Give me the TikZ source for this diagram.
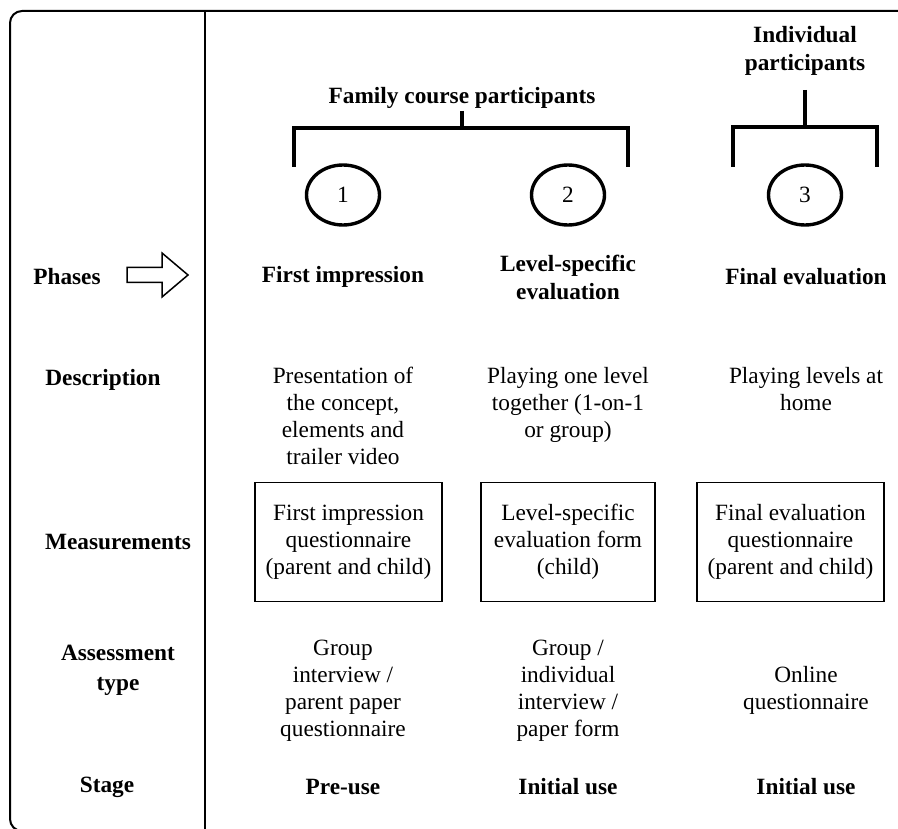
\documentclass[tikz,border=0pt]{standalone}
\usepackage{fontspec}
\setmainfont{Liberation Serif}
\usetikzlibrary{shapes.geometric}
\begin{document}
\begin{tikzpicture}[x=1pt,y=-1pt,
  txt/.style={inner sep=0pt, align=center, font=\fontsize{23.3}{27}\selectfont},
  bld/.style={inner sep=0pt, align=center, font=\fontsize{23.3}{28}\selectfont\bfseries},
  mbox/.style={txt, draw, line width=1.6pt, minimum height=119pt},
  num/.style={ellipse, draw, line width=3.4pt, minimum width=73pt, minimum height=60pt, inner sep=0pt, font=\fontsize{23.3}{27}\selectfont},
  frame/.style={line width=2pt},
  bracket/.style={line width=3.6pt}]
\clip (0,0) rectangle (898,829);
% frame
\draw[frame, rounded corners=12pt] (910,11) -- (10,11) -- (10,831) -- (910,831);
\draw[frame] (205,11) -- (205,831);
% headings
\node[bld] (fam) at (462,98) {Family course participants};
\node[bld] (ind) at (805,51) {Individual\\participants};
% brackets
\coordinate (fs) at (462,111);
\coordinate (fb) at (462,128);
\draw[bracket] (fs) -- (fb);
\draw[bracket] (294,167) -- (294,128) -- (628,128) -- (628,167);
\coordinate (is) at (805,90);
\coordinate (ib) at (805,127);
\draw[bracket] (is) -- (ib);
\draw[bracket] (733,167) -- (733,127) -- (877,127) -- (877,167);
% numbers
\node[num] (n1) at (343,195) {1};
\node[num] (n2) at (568,195) {2};
\node[num] (n3) at (805,195) {3};
% row labels
\node[bld] (lphases) at (67,277) {Phases};
\coordinate (arr) at (127,275);
\draw[line width=1.5pt, line join=miter] (arr) ++(0,-7.5) -- ++(35,0) -- ++(0,-14.5) -- ++(26,22)
   -- ++(-26,22) -- ++(0,-14.5) -- ++(-35,0) -- cycle;
\node[bld] (ldesc) at (103,380) {Description};
\node[bld] (lmeas) at (118,542) {Measurements};
\node[bld, font=\fontsize{23.3}{30}\selectfont\bfseries] (lass) at (118,670) {Assessment\\type};
\node[bld] (lstage) at (107,787) {Stage};
% phases
\node[bld] (p1) at (343,277) {First impression};
\node[bld] (p2) at (568,277) {Level-specific\\evaluation};
\node[bld] (p3) at (806,277) {Final evaluation};
% descriptions
\node[txt, anchor=north] (d1) at (343,367) {Presentation of\\the concept,\\elements and\\trailer video};
\node[txt, anchor=north] (d2) at (568,367) {Playing one level\\together (1-on-1\\or group)};
\node[txt, anchor=north] (d3) at (806,367) {Playing levels at\\home};
% measurements
\node[mbox, minimum width=187pt] (m1) at (348.5,542) {First impression\\questionnaire\\(parent and child)};
\node[mbox, minimum width=174pt] (m2) at (568,542) {Level-specific\\evaluation form\\(child)};
\node[mbox, minimum width=187pt] (m3) at (790.5,542) {Final evaluation\\questionnaire\\(parent and child)};
% assessment
\node[txt] (a1) at (343,691) {Group\\interview /\\parent paper\\questionnaire};
\node[txt] (a2) at (568,691) {Group /\\individual\\interview /\\paper form};
\node[txt] (a3) at (806,690) {Online\\questionnaire};
% stage
\node[bld] (s1) at (343,787) {Pre-use};
\node[bld] (s2) at (568,787) {Initial use};
\node[bld] (s3) at (806,787) {Initial use};
\end{tikzpicture}
\end{document}
